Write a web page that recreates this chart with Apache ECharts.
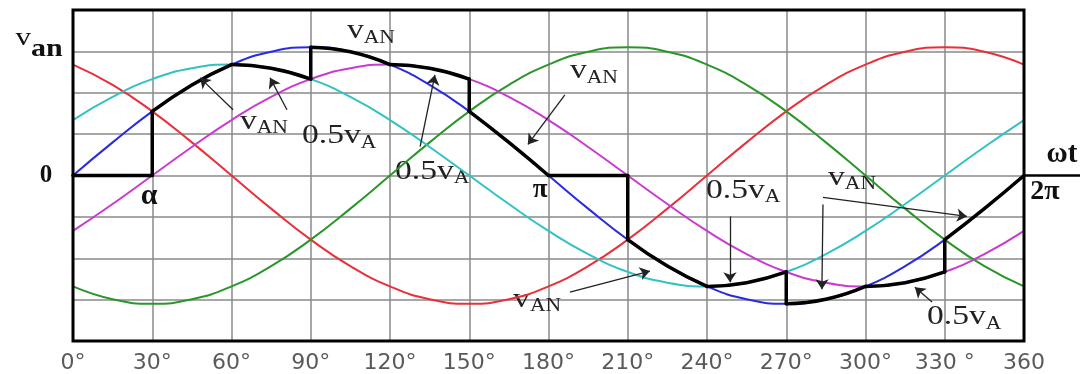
<!DOCTYPE html>
<html>
<head>
<meta charset="utf-8">
<script src="https://cdn.jsdelivr.net/npm/echarts@6/dist/echarts.min.js"></script>
<style>
  html, body { margin: 0; background: #fff; }
  #chart { width: 1090px; height: 374px; }
</style>
</head>
<body>
<div id="chart"></div>
<script>
// angle samples (degrees) and curve values (grid units)
const angles = [0, 15, 30, 45, 60, 75, 90, 105, 120, 135, 150, 165, 180, 195, 210, 225, 240, 255, 270, 285, 300, 315, 330, 345, 360];
const vBlue = [0, 0.80, 1.55, 2.19, 2.68, 2.99, 3.10, 2.99, 2.68, 2.19, 1.55, 0.80, 0, -0.80, -1.55, -2.19, -2.68, -2.99, -3.10, -2.99, -2.68, -2.19, -1.55, -0.80, 0];
const vRed = [2.68, 2.19, 1.55, 0.80, 0, -0.80, -1.55, -2.19, -2.68, -2.99, -3.10, -2.99, -2.68, -2.19, -1.55, -0.80, 0, 0.80, 1.55, 2.19, 2.68, 2.99, 3.10, 2.99, 2.68];
const vGreen = [-2.68, -2.99, -3.10, -2.99, -2.68, -2.19, -1.55, -0.80, 0, 0.80, 1.55, 2.19, 2.68, 2.99, 3.10, 2.99, 2.68, 2.19, 1.55, 0.80, 0, -0.80, -1.55, -2.19, -2.68];
const vCyan = [1.34, 1.90, 2.33, 2.59, 2.68, 2.59, 2.33, 1.90, 1.34, 0.69, 0, -0.69, -1.34, -1.90, -2.33, -2.59, -2.68, -2.59, -2.33, -1.90, -1.34, -0.69, 0, 0.69, 1.34];
const vMagenta = [-1.34, -0.69, 0, 0.69, 1.34, 1.90, 2.33, 2.59, 2.68, 2.59, 2.33, 1.90, 1.34, 0.69, 0, -0.69, -1.34, -1.90, -2.33, -2.59, -2.68, -2.59, -2.33, -1.90, -1.34];

// the thick vAN waveform (jumps = repeated angle)
const vanAngles = [0, 30, 30, 45, 60, 75, 90, 90, 105, 120, 135, 150, 150, 165, 180, 210, 210, 225, 240, 255, 270, 270, 285, 300, 315, 330, 330, 345, 360];
const vanValues = [0, 0, 1.55, 2.19, 2.68, 2.59, 2.33, 3.10, 2.99, 2.68, 2.59, 2.33, 1.55, 0.80, 0, 0, -1.55, -2.19, -2.68, -2.59, -2.33, -3.10, -2.99, -2.68, -2.59, -2.33, -1.55, -0.80, 0];

const tickLabels = ['0°', '30°', '60°', '90°', '120°', '150°', '180°', '210°', '240°', '270°', '300°', '330 °', '360'];

// annotation placement, in data units (angle, value)
const notes = [
  { at: [63.2, 1.30], main: 'v', sub: 'AN' },
  { at: [103.7, 3.49], main: 'v', sub: 'AN' },
  { at: [86.7, 0.96], main: '0.5v', sub: 'A' },
  { at: [121.9, 0.10], main: '0.5v', sub: 'A' },
  { at: [188.1, 2.53], main: 'v', sub: 'AN' },
  { at: [239.6, -0.36], main: '0.5v', sub: 'A' },
  { at: [285.8, -0.05], main: 'v', sub: 'AN' },
  { at: [166.6, -2.99], main: 'v', sub: 'AN' },
  { at: [323.3, -3.42], main: '0.5v', sub: 'A' }
];
const arrows = [
  [[60.6, 1.59], [48.1, 2.36]],
  [[81.0, 1.59], [74.6, 2.36]],
  [[131.4, 0.70], [137.0, 2.43]],
  [[186.2, 1.95], [172.2, 0.75]],
  [[248.7, -0.99], [248.7, -2.58]],
  [[283.9, -0.70], [283.5, -2.75]],
  [[283.9, -0.53], [338.4, -0.99]],
  [[188.1, -2.82], [218.4, -2.31]],
  [[325.2, -3.06], [318.7, -2.70]]
];

const chart = echarts.init(document.getElementById('chart'));
const xy = (xs, ys) => xs.map((x, i) => [x, ys[i]]);

function curve(name, color, ys) {
  return {
    name: name,
    type: 'line',
    data: xy(angles, ys),
    smooth: 0.5,
    showSymbol: false,
    symbol: 'none',
    silent: true,
    lineStyle: { color: color, width: 2 }
  };
}

// split vAN at every 30 degree boundary so each arc is smoothed on its own
const vanPts = xy(vanAngles, vanValues);
const pieces = [];
let cur = [vanPts[0]];
for (let i = 1; i < vanPts.length; i++) {
  cur.push(vanPts[i]);
  if (vanPts[i][0] % 30 === 0) {
    pieces.push(cur);
    cur = [vanPts[i]];
  }
}

const series = [
  curve('red', '#e8303a', vRed),
  curve('green', '#2a962a', vGreen),
  curve('cyan', '#30c2c4', vCyan),
  curve('magenta', '#c93ad0', vMagenta),
  curve('blue', '#2a2ae0', vBlue)
];
pieces.forEach((p) => {
  series.push({
    type: 'line',
    data: p,
    smooth: p.length > 2 ? 0.5 : false,
    symbol: 'none',
    silent: true,
    z: 4,
    lineStyle: { color: '#000', width: 3.5, cap: 'round', join: 'round' }
  });
});
series.push({
  type: 'line',
  data: [],
  z: 5,
  markLine: {
    silent: true,
    animation: false,
    symbol: ['none', 'arrow'],
    symbolSize: 10,
    label: { show: false },
    lineStyle: { color: '#222', width: 1.3, type: 'solid' },
    emphasis: { disabled: true },
    data: arrows.map((a) => [{ coord: a[0] }, { coord: a[1] }])
  }
});

chart.setOption({
  animation: false,
  grid: { left: 73, right: 66, top: 10, bottom: 32 },
  xAxis: {
    type: 'value', min: 0, max: 360, interval: 30,
    axisLine: { show: false },
    axisTick: { show: false },
    splitLine: { show: true, lineStyle: { color: '#8a8a8a', width: 1.5 } },
    axisLabel: {
      showMinLabel: true, showMaxLabel: true,
      formatter: (v) => tickLabels[Math.round(v / 30)],
      color: '#5a5a5a', fontFamily: 'DejaVu Sans', fontSize: 22, margin: 11
    }
  },
  yAxis: {
    type: 'value', min: -4, max: 4, interval: 1,
    axisLine: { show: false },
    axisTick: { show: false },
    axisLabel: { show: false },
    splitLine: { show: true, lineStyle: { color: '#8a8a8a', width: 1.5 } }
  },
  series: series
});

// text overlays
const ctx = document.createElement('canvas').getContext('2d');
const SERIF = '"Liberation Serif", "Times New Roman", serif';
function textW(t, size, weight) {
  ctx.font = (weight || 'normal') + ' ' + size + 'px ' + SERIF;
  return ctx.measureText(t).width;
}
const px = (p) => chart.convertToPixel({ gridIndex: 0 }, p);

const graphic = [];

// heavy black frame on top of the grid lines
const tl = px([0, 4]);
const br = px([360, -4]);
graphic.push({
  type: 'rect', silent: true, z: 8,
  shape: { x: tl[0], y: tl[1], width: br[0] - tl[0], height: br[1] - tl[1] },
  style: { fill: 'none', stroke: '#000', lineWidth: 3 }
});

notes.forEach((n) => {
  const p = px(n.at);
  const w = textW(n.main, 28);
  graphic.push({
    type: 'group', x: p[0], y: p[1], scaleX: 1.2, silent: true, z: 10,
    children: [
      { type: 'text', x: 0, y: 0, style: { text: n.main, fontSize: 28, fontFamily: SERIF, fill: '#222', align: 'left', verticalAlign: 'middle' } },
      { type: 'text', x: w, y: 7, style: { text: n.sub, fontSize: 18, fontFamily: SERIF, fill: '#222', align: 'left', verticalAlign: 'middle' } }
    ]
  });
});

function mark(at, text, size, weight) {
  const p = px(at);
  graphic.push({
    type: 'text', x: p[0], y: p[1], silent: true, z: 10,
    style: { text: text, fontSize: size, fontWeight: weight || 'bold', fontFamily: SERIF, fill: '#111', align: 'center', verticalAlign: 'middle' }
  });
}
mark([-10.2, 0], '0', 25);
mark([28.8, -0.51], 'α', 30);
mark([176.8, -0.36], 'π', 27);
mark([374.4, 0.51], 'ωt', 29);
mark([367.9, -0.39], '2π', 28);

// v_an axis title
const vp = px([-21.8, 3.33]);
graphic.push({
  type: 'group', x: vp[0], y: vp[1], scaleX: 1.2, silent: true, z: 10,
  children: [
    { type: 'text', x: 0, y: 0, style: { text: 'v', fontSize: 26, fontFamily: SERIF, fill: '#111', align: 'left', verticalAlign: 'middle' } },
    { type: 'text', x: textW('v', 26), y: 12, style: { text: 'an', fontSize: 25, fontWeight: 'bold', fontFamily: SERIF, fill: '#111', align: 'left', verticalAlign: 'middle' } }
  ]
});

// ωt axis continues past the frame
const a0 = px([360, 0]);
const a1 = px([381.2, 0]);
graphic.push({
  type: 'line', silent: true, z: 10,
  shape: { x1: a0[0], y1: a0[1], x2: a1[0], y2: a1[1] },
  style: { stroke: '#000', lineWidth: 2.5 }
});

chart.setOption({ graphic: graphic });
</script>
</body>
</html>
